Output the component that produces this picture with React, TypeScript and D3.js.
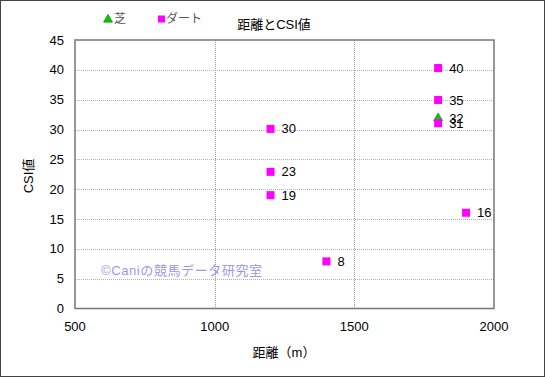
import React from "react";
import * as d3 from "d3";

const turfDist = [1800];
const turfCSI = [31.9];
const turfLabels = ["32"];

const dirtDist = [1800, 1800, 1800, 1200, 1200, 1200, 1900, 1400];
const dirtCSI = [40.3, 34.95, 31.05, 30.1, 22.9, 19.0, 16.05, 7.9];
const dirtLabels = ["40", "35", "31", "30", "23", "19", "16", "8"];

const xTicks = [500, 1000, 1500, 2000];
const yTicks = [0, 5, 10, 15, 20, 25, 30, 35, 40, 45];

const W = 545;
const H = 377;
const L = 75, R = 494, T = 40, B = 308.5;
const FONT = "'Liberation Sans', Arial, 'Noto Sans CJK JP', sans-serif";

export default function App() {
  const x = d3.scaleLinear().domain([500, 2000]).range([L, R]);
  const y = d3.scaleLinear().domain([0, 45]).range([B, T]);
  const tri = d3.symbol().type(d3.symbolTriangle).size(36)() as string;

  return (
    <>
      <style>{"body{margin:0}"}</style>
      <svg width={W} height={H} style={{ display: "block", fontFamily: FONT }}>
        <rect x={0.5} y={0.5} width={W - 1} height={H - 1} fill="#fff" stroke="#444" strokeWidth={1} />
        {/* gridlines */}
        {yTicks.filter((t) => t > 0 && t < 45).map((t) => (
          <line key={"gy" + t} x1={L} x2={R} y1={Math.round(y(t)) + 0.5} y2={Math.round(y(t)) + 0.5}
            stroke="#b0b0b0" strokeDasharray="1,1" />
        ))}
        {xTicks.filter((t) => t > 500 && t < 2000).map((t) => (
          <line key={"gx" + t} y1={T} y2={B} x1={Math.round(x(t)) + 0.5} x2={Math.round(x(t)) + 0.5}
            stroke="#999" strokeDasharray="1,1" />
        ))}
        {/* plot frame */}
        <rect x={L} y={T} width={R - L} height={B - T} fill="none" stroke="#777" strokeWidth={1.5} />
        {/* y ticks */}
        {yTicks.map((t) => (
          <text key={"ty" + t} x={64} y={y(t)} dy="0.35em" textAnchor="end" fontSize={13} fill="#000">{t}</text>
        ))}
        {xTicks.map((t) => (
          <text key={"tx" + t} x={x(t)} y={326} dy="0.35em" textAnchor="middle" fontSize={13} fill="#000">{t}</text>
        ))}
        {/* axis titles */}
        <text x={284} y={352} dy="0.35em" textAnchor="middle" fontSize={13} fill="#000">距離（m）</text>
        <text transform={`translate(28,176) rotate(-90)`} dy="0.35em" textAnchor="middle" fontSize={13} fill="#000">CSI値</text>
        {/* title */}
        <text x={274} y={24} dy="0.35em" textAnchor="middle" fontSize={13} fill="#000">距離とCSI値</text>
        {/* legend */}
        <path d={tri} transform="translate(108,19.5)" fill="#00cc00" stroke="#006600" strokeWidth={0.5} />
        <text x={114} y={19} dy="0.35em" fontSize={12} fill="#555">芝</text>
        <rect x={158} y={15.5} width={7} height={7} fill="#ff00ff" />
        <text x={166} y={19} dy="0.35em" fontSize={12} fill="#555">ダート</text>
        {/* watermark */}
        <text x={101} y={270} dy="0.35em" fontSize={13} letterSpacing={0.6} fill="#9999ee">©Caniの競馬データ研究室</text>
        {/* turf */}
        {turfDist.map((d, i) => (
          <g key={"t" + i}>
            <path d={tri} transform={`translate(${x(d)},${y(turfCSI[i])})`} fill="#00cc00" stroke="#006600" strokeWidth={0.5} />
            <text x={x(d) + 11} y={y(turfCSI[i])} dy="0.35em" fontSize={13} fill="#000">{turfLabels[i]}</text>
          </g>
        ))}
        {/* dirt */}
        {dirtDist.map((d, i) => (
          <g key={"d" + i}>
            <rect x={x(d) - 4} y={y(dirtCSI[i]) - 4} width={8} height={8} fill="#ff00ff" />
            <text x={x(d) + 11} y={y(dirtCSI[i])} dy="0.35em" fontSize={13} fill="#000">{dirtLabels[i]}</text>
          </g>
        ))}
      </svg>
    </>
  );
}
